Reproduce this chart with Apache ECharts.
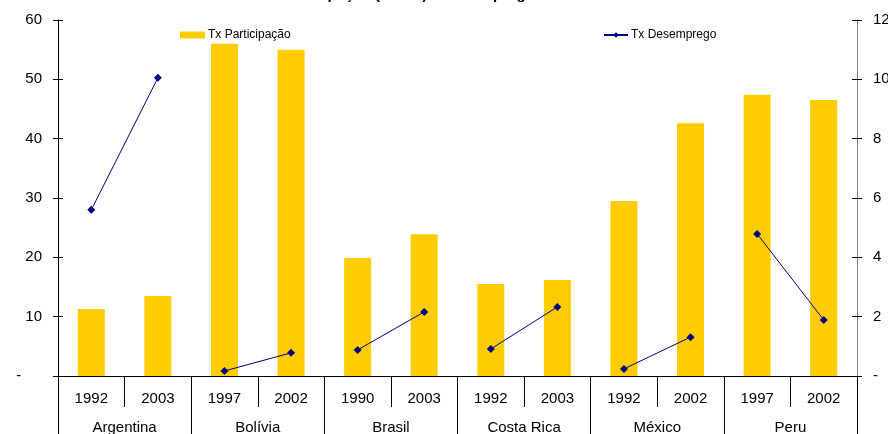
<!DOCTYPE html>
<html>
<head>
<meta charset="utf-8">
<script src="https://cdn.jsdelivr.net/npm/echarts@6/dist/echarts.min.js"></script>
<style>
  html, body { margin: 0; padding: 0; background: #fff; }
  #chart { width: 888px; height: 434px; }
</style>
</head>
<body>
<div id="chart"></div>
<script>
// Years per country pair (lower axis row) and country names (upper axis row)
const years = ['1992', '2003', '1997', '2002', '1990', '2003', '1992', '2003', '1992', '2002', '1997', '2002'];
const countries = ['Argentina', 'Bolívia', 'Brasil', 'Costa Rica', 'México', 'Peru'];

// Participation rate (left axis, %)
const participacao = [11.3, 13.5, 56.0, 55.0, 19.9, 23.9, 15.5, 16.2, 29.5, 42.6, 47.4, 46.5];
// Unemployment rate (right axis, %)
const desemprego = [5.6, 10.05, 0.17, 0.78, 0.88, 2.16, 0.91, 2.33, 0.24, 1.31, 4.79, 1.89];

const leftTicks = { min: 0, max: 60, interval: 10 };
const rightTicks = { min: 0, max: 12, interval: 2 };

const FONT = 'Liberation Sans, Arial, sans-serif';
const NAVY = '#000080';
const GOLD = '#FFCC00';

// One line series per country so the segments stay separate
const lineSeries = countries.map((c, k) => {
  const data = years.map((_, i) => (Math.floor(i / 2) === k ? desemprego[i] : '-'));
  return {
    name: 'Tx Desemprego',
    type: 'line',
    xAxisIndex: 0,
    yAxisIndex: 1,
    data: data,
    symbol: 'diamond',
    symbolSize: 8,
    showSymbol: true,
    connectNulls: false,
    lineStyle: { color: NAVY, width: 1 },
    itemStyle: { color: NAVY },
    z: 5,
    animation: false
  };
});

const dashFmt = (v) => (v === 0 ? '-     ' : String(v));

const chart = echarts.init(document.getElementById('chart'), null, { renderer: 'canvas' });
chart.setOption({
  animation: false,
  backgroundColor: '#fff',
  textStyle: { fontFamily: FONT },
  title: {
    text: 'Tx Participação (60 e +) e Desemprego',
    left: 255,
    top: -18,
    textStyle: { fontFamily: FONT, fontSize: 15, fontWeight: 'bold', color: '#000' }
  },
  legend: [
    {
      data: [{ name: 'Tx Participação', icon: 'rect' }],
      left: 180,
      top: 29,
      padding: 0,
      itemWidth: 25,
      itemHeight: 7,
      itemGap: 4,
      textStyle: { fontFamily: FONT, fontSize: 12, color: '#000', padding: [0, 0, 0, -2] }
    },
    {
      data: [{ name: 'Tx Desemprego' }],
      left: 603,
      top: 29,
      padding: 0,
      itemWidth: 24,
      itemHeight: 7,
      textStyle: { fontFamily: FONT, fontSize: 12, color: '#000', padding: [0, 0, 0, -2] }
    }
  ],
  grid: { left: 58, right: 31, top: 20, bottom: 58, containLabel: false, outerBoundsMode: 'none' },
  xAxis: [
    {
      type: 'category',
      data: years,
      position: 'bottom',
      axisLine: { show: true, lineStyle: { color: '#000', width: 1 } },
      axisTick: { show: true, interval: 0, length: 31, lineStyle: { color: '#000' } },
      axisLabel: { interval: 0, margin: 15, fontSize: 15, color: '#000', fontFamily: FONT },
      splitLine: { show: false }
    },
    {
      type: 'category',
      data: countries,
      position: 'bottom',
      axisLine: { show: false },
      axisTick: { show: true, interval: 0, length: 60, lineStyle: { color: '#000' } },
      axisLabel: { interval: 0, margin: 44, fontSize: 15, color: '#000', fontFamily: FONT },
      splitLine: { show: false }
    }
  ],
  yAxis: [
    {
      type: 'value',
      position: 'left',
      min: leftTicks.min, max: leftTicks.max, interval: leftTicks.interval,
      axisLine: { show: true, lineStyle: { color: '#000' } },
      axisTick: { show: true, length: 5, lineStyle: { color: '#000' } },
      axisLabel: { margin: 16, fontSize: 15, color: '#000', fontFamily: FONT, formatter: dashFmt },
      splitLine: { show: false }
    },
    {
      type: 'value',
      position: 'right',
      min: rightTicks.min, max: rightTicks.max, interval: rightTicks.interval,
      axisLine: { show: true, lineStyle: { color: '#808080' } },
      axisTick: { show: true, length: 5, lineStyle: { color: '#000' } },
      axisLabel: { margin: 16, fontSize: 15, color: '#000', fontFamily: FONT, formatter: (v) => (v === 0 ? '-' : String(v)) },
      splitLine: { show: false }
    },
    {
      // inner half of the cross ticks on the left axis
      type: 'value',
      position: 'left',
      min: leftTicks.min, max: leftTicks.max, interval: leftTicks.interval,
      axisLine: { show: false },
      axisTick: { show: true, inside: true, length: 5, lineStyle: { color: '#000' } },
      axisLabel: { show: false },
      splitLine: { show: false }
    },
    {
      // inner half of the cross ticks on the right axis
      type: 'value',
      position: 'right',
      min: rightTicks.min, max: rightTicks.max, interval: rightTicks.interval,
      axisLine: { show: false },
      axisTick: { show: true, inside: true, length: 5, lineStyle: { color: '#000' } },
      axisLabel: { show: false },
      splitLine: { show: false }
    }
  ],
  series: [
    {
      name: 'Tx Participação',
      type: 'bar',
      xAxisIndex: 0,
      yAxisIndex: 0,
      data: participacao,
      barWidth: 27,
      itemStyle: { color: GOLD },
      z: 2
    }
  ].concat(lineSeries)
});
</script>
</body>
</html>
